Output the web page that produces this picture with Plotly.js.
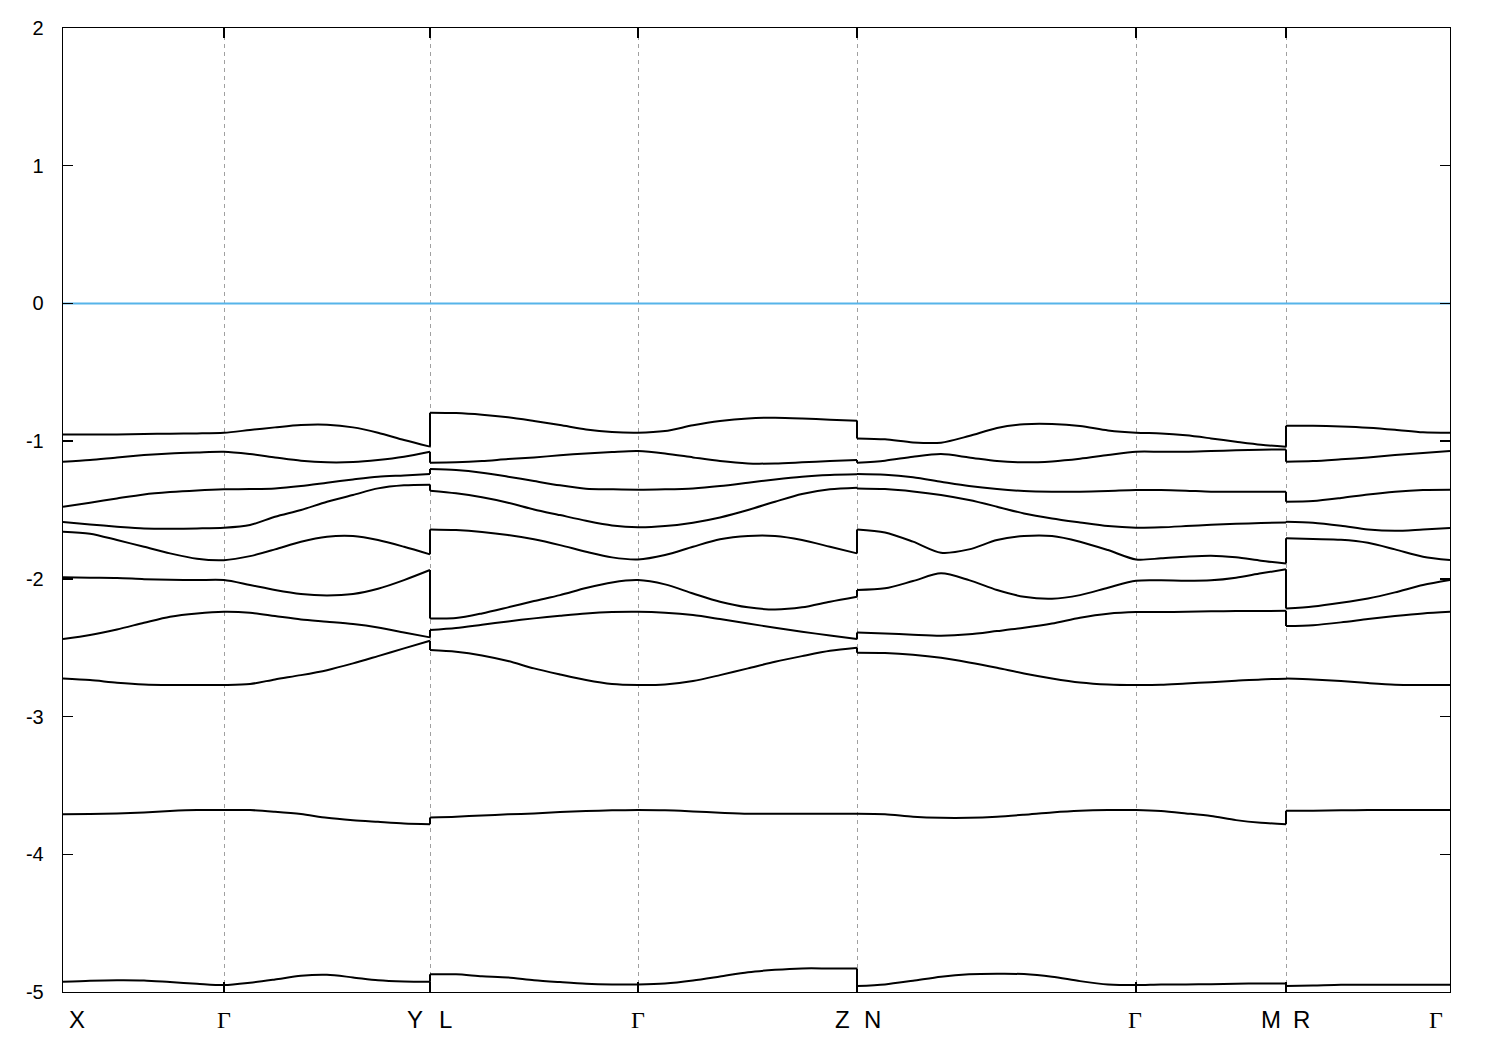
<!DOCTYPE html>
<html>
<head>
<meta charset="utf-8">
<script src="https://cdn.plot.ly/plotly-3.0.1.min.js"></script>
<style>html,body{margin:0;padding:0;background:#fff;}#chart{width:1500px;height:1050px;}</style>
</head>
<body>
<div id="chart"></div>
<script>
// k-path sample positions (segments X-Γ, Γ-Y | L-Γ, Γ-Z | N-Γ, Γ-M | R-Γ)
const kGrid = [
  0.000,0.027,0.054,0.081,0.107,0.134,0.161,
  0.161,0.187,0.212,0.238,0.264,0.290,0.315,0.341,0.367,
  0.367,0.393,0.419,0.445,0.471,0.497,0.523,0.549,0.575,
  0.575,0.602,0.630,0.657,0.685,0.712,0.739,0.767,0.794,
  0.794,0.822,0.850,0.878,0.906,0.934,0.961,0.989,1.017,1.045,1.073,
  1.073,1.098,1.123,1.148,1.173,1.198,1.223,
  1.223,1.250,1.278,1.305,1.332,1.360,1.387
];
const pathBreaks = [0.367, 0.794, 1.223];
const kLabelPos = [0.014, 0.161, 0.352, 0.382, 0.575, 0.779, 0.809, 1.072, 1.208, 1.238, 1.373];
const kLabels = ["X", "Γ", "Y", "L", "Γ", "Z", "N", "Γ", "M", "R", "Γ"];
const kTicks = [0.161, 0.367, 0.575, 0.794, 1.073, 1.223];
const fermiLevel = 0;
const yTicks = [2, 1, 0, -1, -2, -3, -4, -5];

const band1 = [-0.951,-0.951,-0.951,-0.948,-0.946,-0.944,-0.939, -0.939,-0.919,-0.900,-0.883,-0.881,-0.900,-0.939,-0.992,-1.040, -0.793,-0.796,-0.808,-0.827,-0.854,-0.883,-0.915,-0.934,-0.939, -0.939,-0.927,-0.885,-0.854,-0.835,-0.830,-0.835,-0.844,-0.852, -0.980,-0.987,-1.009,-1.011,-0.963,-0.905,-0.878,-0.876,-0.890,-0.922,-0.939, -0.939,-0.944,-0.958,-0.980,-1.004,-1.026,-1.040, -0.888,-0.888,-0.893,-0.902,-0.917,-0.936,-0.939];
const band2 = [-1.149,-1.137,-1.118,-1.101,-1.089,-1.082,-1.077, -1.077,-1.094,-1.118,-1.142,-1.154,-1.152,-1.137,-1.113,-1.077, -1.157,-1.154,-1.145,-1.130,-1.118,-1.103,-1.089,-1.079,-1.072, -1.072,-1.089,-1.118,-1.145,-1.162,-1.162,-1.154,-1.145,-1.137, -1.157,-1.142,-1.113,-1.094,-1.118,-1.145,-1.154,-1.147,-1.128,-1.101,-1.077, -1.077,-1.077,-1.077,-1.072,-1.067,-1.062,-1.060, -1.149,-1.145,-1.132,-1.118,-1.101,-1.086,-1.072];
const band3 = [-1.476,-1.447,-1.416,-1.387,-1.370,-1.358,-1.350, -1.350,-1.348,-1.343,-1.326,-1.302,-1.278,-1.258,-1.249,-1.239, -1.203,-1.210,-1.229,-1.258,-1.290,-1.321,-1.345,-1.350,-1.353, -1.353,-1.350,-1.343,-1.326,-1.302,-1.278,-1.258,-1.246,-1.241, -1.239,-1.244,-1.263,-1.295,-1.326,-1.348,-1.362,-1.367,-1.367,-1.362,-1.355, -1.355,-1.355,-1.360,-1.367,-1.367,-1.367,-1.367, -1.440,-1.435,-1.413,-1.387,-1.367,-1.355,-1.353];
const band4 = [-1.588,-1.605,-1.621,-1.634,-1.636,-1.634,-1.629, -1.629,-1.609,-1.549,-1.500,-1.440,-1.391,-1.343,-1.321,-1.316, -1.360,-1.379,-1.408,-1.447,-1.496,-1.537,-1.578,-1.612,-1.626, -1.626,-1.617,-1.592,-1.554,-1.500,-1.440,-1.384,-1.350,-1.338, -1.343,-1.348,-1.365,-1.391,-1.428,-1.476,-1.525,-1.561,-1.590,-1.617,-1.629, -1.629,-1.626,-1.617,-1.607,-1.600,-1.595,-1.590, -1.585,-1.592,-1.614,-1.641,-1.651,-1.641,-1.631];
const band5 = [-1.658,-1.672,-1.718,-1.767,-1.815,-1.854,-1.864, -1.864,-1.835,-1.786,-1.730,-1.694,-1.689,-1.718,-1.767,-1.822, -1.641,-1.646,-1.660,-1.682,-1.713,-1.755,-1.803,-1.844,-1.859, -1.859,-1.827,-1.767,-1.713,-1.689,-1.689,-1.718,-1.767,-1.815, -1.641,-1.663,-1.730,-1.810,-1.786,-1.718,-1.689,-1.689,-1.730,-1.791,-1.859, -1.859,-1.851,-1.839,-1.832,-1.844,-1.868,-1.888, -1.706,-1.711,-1.716,-1.738,-1.786,-1.839,-1.864];
const band6 = [-1.989,-1.992,-1.994,-2.002,-2.006,-2.009,-2.009, -2.009,-2.045,-2.081,-2.110,-2.120,-2.110,-2.072,-2.009,-1.936, -2.287,-2.285,-2.251,-2.207,-2.161,-2.118,-2.067,-2.026,-2.009, -2.009,-2.040,-2.106,-2.166,-2.207,-2.222,-2.207,-2.166,-2.130, -2.081,-2.069,-2.016,-1.960,-2.009,-2.081,-2.130,-2.144,-2.118,-2.064,-2.014, -2.009,-2.011,-2.014,-2.011,-1.992,-1.960,-1.931, -2.215,-2.200,-2.173,-2.142,-2.098,-2.045,-2.009];
const band7 = [-2.437,-2.408,-2.367,-2.319,-2.275,-2.251,-2.239, -2.239,-2.246,-2.270,-2.295,-2.311,-2.328,-2.353,-2.389,-2.425, -2.372,-2.357,-2.333,-2.309,-2.287,-2.268,-2.251,-2.241,-2.239, -2.239,-2.246,-2.263,-2.292,-2.324,-2.355,-2.384,-2.411,-2.437, -2.389,-2.396,-2.406,-2.413,-2.403,-2.379,-2.355,-2.324,-2.282,-2.253,-2.241, -2.241,-2.241,-2.239,-2.236,-2.234,-2.234,-2.232, -2.343,-2.336,-2.316,-2.292,-2.270,-2.251,-2.239];
const band8 = [-2.723,-2.735,-2.754,-2.767,-2.771,-2.771,-2.771, -2.771,-2.764,-2.730,-2.699,-2.663,-2.614,-2.561,-2.505,-2.449, -2.517,-2.529,-2.556,-2.597,-2.650,-2.694,-2.735,-2.764,-2.771, -2.771,-2.767,-2.742,-2.699,-2.650,-2.602,-2.561,-2.522,-2.500, -2.537,-2.539,-2.551,-2.573,-2.607,-2.646,-2.687,-2.723,-2.752,-2.767,-2.771, -2.771,-2.769,-2.759,-2.750,-2.740,-2.730,-2.725, -2.723,-2.730,-2.742,-2.757,-2.769,-2.771,-2.771];
const band9 = [-3.710,-3.708,-3.703,-3.696,-3.686,-3.679,-3.679, -3.679,-3.679,-3.691,-3.708,-3.735,-3.752,-3.764,-3.776,-3.781, -3.732,-3.727,-3.718,-3.710,-3.703,-3.693,-3.686,-3.681,-3.679, -3.679,-3.681,-3.689,-3.698,-3.706,-3.706,-3.706,-3.706,-3.706, -3.706,-3.710,-3.727,-3.735,-3.735,-3.727,-3.713,-3.696,-3.684,-3.679,-3.679, -3.679,-3.686,-3.703,-3.722,-3.752,-3.771,-3.781, -3.684,-3.684,-3.681,-3.679,-3.679,-3.679,-3.679];
const band10 = [-4.926,-4.918,-4.914,-4.916,-4.928,-4.940,-4.950, -4.950,-4.933,-4.909,-4.882,-4.875,-4.894,-4.914,-4.923,-4.926, -4.872,-4.872,-4.885,-4.894,-4.914,-4.928,-4.940,-4.945,-4.945, -4.945,-4.938,-4.916,-4.887,-4.856,-4.839,-4.829,-4.829,-4.829, -4.957,-4.945,-4.918,-4.889,-4.872,-4.868,-4.870,-4.889,-4.921,-4.945,-4.950, -4.947,-4.945,-4.945,-4.943,-4.940,-4.938,-4.938, -4.957,-4.953,-4.947,-4.947,-4.947,-4.947,-4.947];

const bands = [band1, band2, band3, band4, band5, band6, band7, band8, band9, band10];

const traces = [];
// Fermi level
traces.push({
  x: [kGrid[0], kGrid[kGrid.length - 1]], y: [fermiLevel, fermiLevel],
  mode: 'lines', line: {color: '#56b4e9', width: 2}, hoverinfo: 'skip'
});

bands.forEach(function (b) {
  const blocks = [];
  let cur = {x: [], y: []};
  const cx = [], cy = [];
  for (let i = 0; i < kGrid.length; i++) {
    if (i > 0 && kGrid[i] === kGrid[i - 1]) {
      if (pathBreaks.indexOf(kGrid[i]) >= 0) {
        cx.push(kGrid[i - 1], kGrid[i], null);
        cy.push(b[i - 1], b[i], null);
        blocks.push(cur);
        cur = {x: [], y: []};
      } else {
        continue;
      }
    }
    cur.x.push(kGrid[i]);
    cur.y.push(b[i]);
  }
  blocks.push(cur);
  blocks.forEach(function (bl) {
    traces.push({x: bl.x, y: bl.y, mode: 'lines',
      line: {color: '#000', width: 2, shape: 'spline', smoothing: 0.8}, hoverinfo: 'skip'});
  });
  traces.push({x: cx, y: cy, mode: 'lines', line: {color: '#000', width: 2}, hoverinfo: 'skip'});
});

const annotations = kLabels.map(function (t, i) {
  const isGamma = t === 'Γ';
  return {
    x: kLabelPos[i], xref: 'x', y: -0.029, yref: 'paper',
    text: t, showarrow: false, xanchor: 'center', yanchor: 'middle',
    font: {family: isGamma ? '"Liberation Serif", "DejaVu Serif", serif' : '"Liberation Sans Narrow", "Liberation Sans", Arial, sans-serif',
           size: 24, color: '#000'}
  };
});

const layout = {
  width: 1500, height: 1050,
  margin: {l: 63, r: 50, t: 28, b: 58, pad: 0},
  paper_bgcolor: '#fff', plot_bgcolor: '#fff',
  showlegend: false,
  xaxis: {
    range: [kGrid[0], kGrid[kGrid.length - 1]],
    tickmode: 'array', tickvals: kTicks, showticklabels: false,
    ticks: 'inside', ticklen: 10, tickwidth: 1.3, tickcolor: '#000',
    showline: true, linecolor: '#000', linewidth: 1.3, mirror: 'allticks',
    showgrid: true, gridcolor: '#a0a0a0', gridwidth: 1, griddash: '4px,4px',
    zeroline: false, fixedrange: true
  },
  yaxis: {
    range: [-5, 2],
    tickmode: 'array', tickvals: yTicks, ticktext: yTicks.map(String),
    ticks: 'inside', ticklen: 10, tickwidth: 1.3, tickcolor: '#000',
    ticklabelstandoff: 14,
    tickfont: {family: '"Liberation Sans", Arial, sans-serif', size: 20, color: '#000'},
    showline: true, linecolor: '#000', linewidth: 1.3, mirror: 'allticks',
    showgrid: false, zeroline: false, fixedrange: true
  },
  annotations: annotations
};

Plotly.newPlot('chart', traces, layout, {staticPlot: true, displayModeBar: false});
</script>
</body>
</html>
